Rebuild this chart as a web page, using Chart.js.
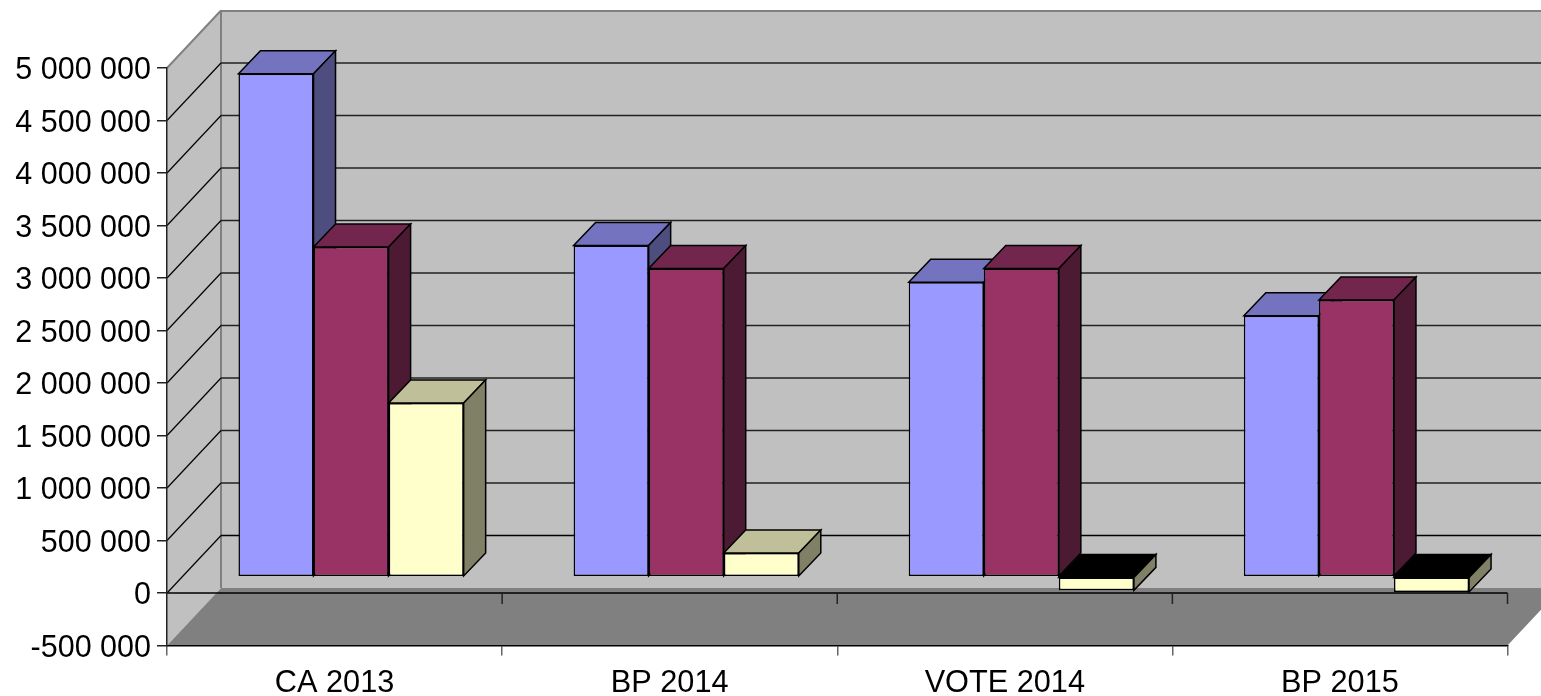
<!DOCTYPE html>
<html>
<head>
<meta charset="utf-8">
<script src="https://cdn.jsdelivr.net/npm/chart.js@4"></script>
<style>
  html, body { margin: 0; padding: 0; background: #fff; overflow: hidden; }
  canvas { display: block; }
</style>
</head>
<body>
<canvas id="chart" width="1541" height="696"></canvas>
<script>
const categories = ['CA 2013', 'BP 2014', 'VOTE 2014', 'BP 2015'];
const seriesOne = [4790000, 3155000, 2805000, 2485000];
const seriesTwo = [3140000, 2935000, 2935000, 2635000];
const seriesThree = [1655000, 225000, -130000, -145000];

// depth of the box and of the bars, in pixels
const wallX = 54, wallY = 57.5;
const barOffX = 16.5, barOffY = 16.3;
const depthX = 22, depthY = 23;

function poly(ctx, pts, fill, stroke, lw) {
  ctx.beginPath();
  pts.forEach((p, i) => i ? ctx.lineTo(p[0], p[1]) : ctx.moveTo(p[0], p[1]));
  ctx.closePath();
  if (fill) { ctx.fillStyle = fill; ctx.fill(); }
  if (stroke) { ctx.strokeStyle = stroke; ctx.lineWidth = lw; ctx.stroke(); }
}

function line(ctx, x1, y1, x2, y2, color, lw) {
  ctx.beginPath();
  ctx.moveTo(x1, y1);
  ctx.lineTo(x2, y2);
  ctx.strokeStyle = color;
  ctx.lineWidth = lw;
  ctx.stroke();
}

// walls, floor and grid behind the bars
const box3d = {
  id: 'box3d',
  beforeDraw(chart) {
    const ctx = chart.ctx, x = chart.scales.x, y = chart.scales.y;
    const l = x.left, r = x.right, t = y.top, b = y.bottom;
    const zero = y.getPixelForValue(0);
    ctx.save();
    // back wall
    poly(ctx, [[l + wallX, t - wallY], [r + wallX, t - wallY], [r + wallX, b - wallY], [l + wallX, b - wallY]], '#c0c0c0');
    // left wall
    poly(ctx, [[l, t], [l + wallX, t - wallY], [l + wallX, b - wallY], [l, b]], '#c0c0c0');
    // floor
    poly(ctx, [[l, b], [l + wallX, b - wallY], [r + wallX, b - wallY], [r, b]], '#808080');
    line(ctx, l + wallX, t - wallY + 0.5, r + wallX, t - wallY + 0.5, '#808080', 2);
    line(ctx, l + wallX, t - wallY, l + wallX, b - wallY, '#808080', 2);
    line(ctx, l, t, l + wallX, t - wallY, '#808080', 2);
    // grid lines on both walls
    y.ticks.forEach(tick => {
      const py = y.getPixelForValue(tick.value);
      if (tick.value === y.max || tick.value === y.min) return;
      line(ctx, l, py, l + wallX, py - wallY, '#000', 1.2);
      line(ctx, l + wallX, py - wallY, r + wallX, py - wallY, tick.value === 0 ? '#000' : '#222', tick.value === 0 ? 1.6 : 1.3);
    });
    // zero line with its ticks
    line(ctx, l, zero, r, zero, '#000', 1.5);
    const step = x.width / categories.length;
    categories.forEach((c, i) => {
      const px = x.getPixelForValue(i) + step / 2;
      line(ctx, px, zero, px, zero + 11, '#222', 1.5);
    });
    ctx.restore();
  },
  // bars are drawn here so the left series comes first and the next one covers its side
  beforeDatasetsDraw(chart) {
    const ctx = chart.ctx;
    const fronts = chart.data.datasets.map(d => d.shade);
    ctx.save();
    ctx.translate(barOffX, -barOffY);
    chart.data.datasets.forEach((d, di) => {
      chart.getDatasetMeta(di).data.forEach(el => {
        const p = el.getProps(['x', 'y', 'base', 'width'], true);
        const lft = p.x - p.width / 2, rgt = p.x + p.width / 2;
        const top = Math.min(p.y, p.base), bot = Math.max(p.y, p.base);
        const neg = p.y > p.base;
        poly(ctx, [[lft, top], [lft + depthX, top - depthY], [rgt + depthX, top - depthY], [rgt, top]],
          neg ? '#000' : fronts[di].top, '#000', 1.5);
        poly(ctx, [[rgt, top], [rgt + depthX, top - depthY], [rgt + depthX, bot - depthY], [rgt, bot]],
          fronts[di].side, '#000', 1.5);
        el.draw(ctx);
      });
    });
    ctx.restore();
    return false;
  }
};

new Chart(document.getElementById('chart'), {
  type: 'bar',
  data: {
    labels: categories,
    datasets: [
      { data: seriesOne, backgroundColor: '#9999ff', shade: { top: '#7373bf', side: '#4d4d80' } },
      { data: seriesTwo, backgroundColor: '#993366', shade: { top: '#73264d', side: '#4d1a33' } },
      { data: seriesThree, backgroundColor: '#ffffcc', shade: { top: '#bfbf99', side: '#808066' } }
    ]
  },
  options: {
    responsive: false,
    animation: false,
    layout: { padding: { top: 68, right: 33.5, left: 0, bottom: 0 } },
    datasets: {
      bar: {
        categoryPercentage: 0.672,
        barPercentage: 1,
        borderColor: '#000',
        borderWidth: 1.5,
        borderSkipped: false
      }
    },
    plugins: { legend: { display: false }, tooltip: { enabled: false } },
    scales: {
      x: {
        afterFit(scale) { scale.height = 50.5; },
        border: { color: '#000', width: 1.5 },
        grid: { offset: true, drawOnChartArea: false, tickLength: 10, color: '#666', lineWidth: 1.5 },
        ticks: { color: '#000', padding: 9.5, maxRotation: 0, font: { family: 'Liberation Sans', size: 30.7 } }
      },
      y: {
        min: -500000,
        max: 5000000,
        afterFit(scale) { scale.width = 167; },
        border: { color: '#222', width: 1.5 },
        grid: { drawOnChartArea: false, tickLength: 10, color: '#222', lineWidth: 1.5 },
        ticks: {
          stepSize: 500000,
          color: '#000',
          padding: 6,
          labelOffset: 3,
          font: { family: 'Liberation Sans', size: 30.5 },
          callback: v => String(v).replace(/\B(?=(\d{3})+$)/g, ' ')
        }
      }
    }
  },
  plugins: [box3d]
});
</script>
</body>
</html>
